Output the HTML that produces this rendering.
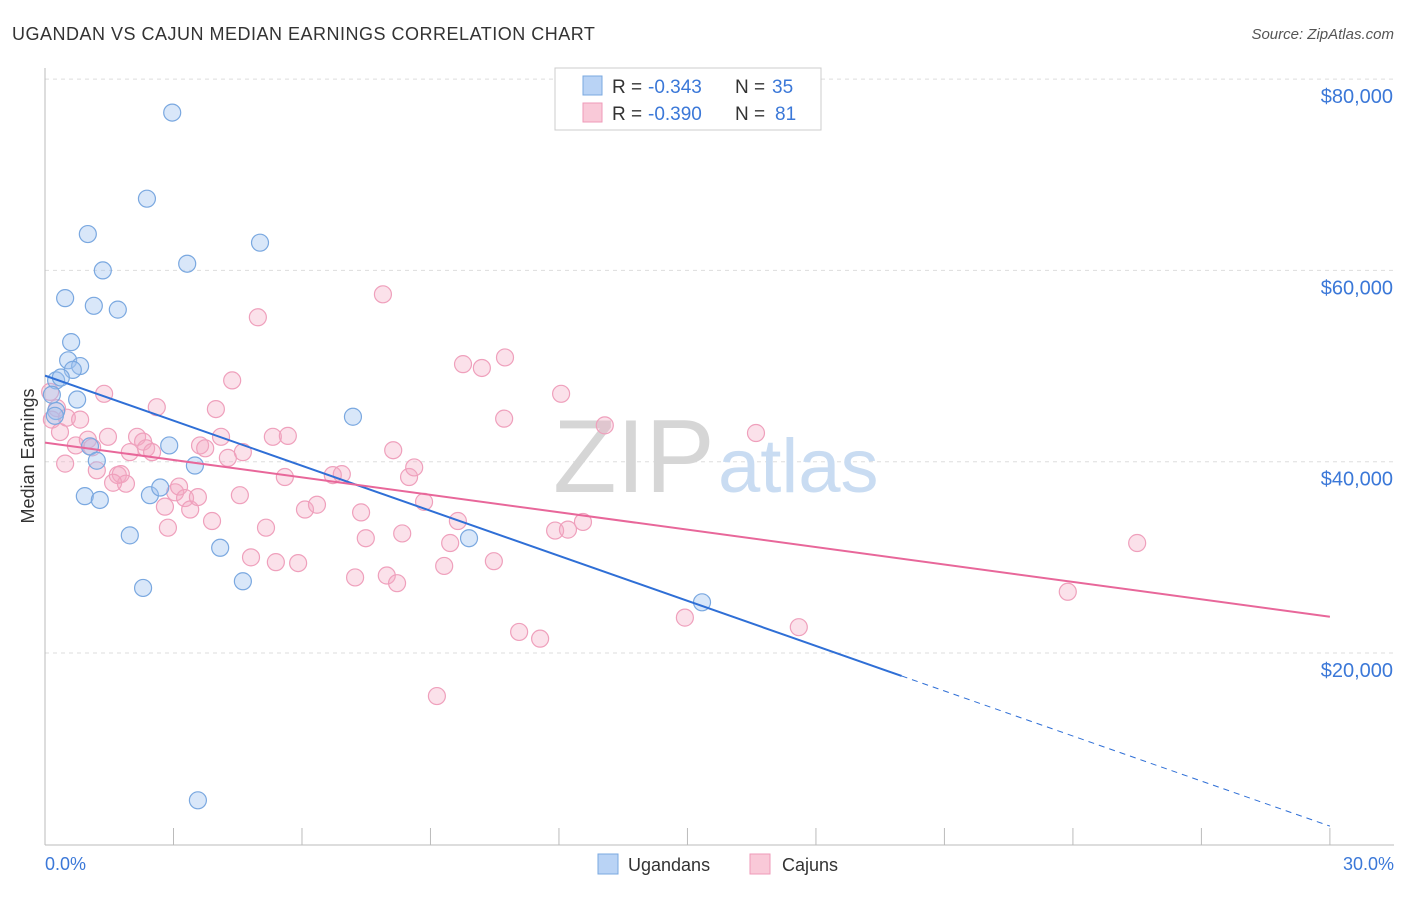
<!DOCTYPE html>
<html><head><meta charset="utf-8">
<style>
body{margin:0;background:#fff;font-family:"Liberation Sans",sans-serif;}
svg text{font-family:"Liberation Sans",sans-serif;}
</style></head>
<body>
<svg id="chart" width="1406" height="892" xmlns="http://www.w3.org/2000/svg">
<text x="12" y="40" font-size="18" letter-spacing="0.5" fill="#333">UGANDAN VS CAJUN MEDIAN EARNINGS CORRELATION CHART</text>
<text x="1394" y="39" font-size="15" fill="#555" text-anchor="end" font-style="italic">Source: ZipAtlas.com</text>
<g id="grid"></g>
<g id="watermark">
<text x="553" y="492" font-size="104" fill="#d6d6d6" font-family="Liberation Serif">ZIP</text>
<text x="718" y="492" font-size="76" fill="#c9dcf2">atlas</text>
</g>
<line x1="45" y1="68" x2="45" y2="845" stroke="#bbb"/>
<line x1="45" y1="845" x2="1394" y2="845" stroke="#bbb"/>
<g id="xticks"></g>
<text x="45" y="870" font-size="18" fill="#3b78d8">0.0%</text>
<text x="1394" y="870" font-size="18" fill="#3b78d8" text-anchor="end">30.0%</text>
<text transform="translate(34,456) rotate(-90)" font-size="18" fill="#333" text-anchor="middle">Median Earnings</text>
<g id="pts"></g>
<g id="lines"></g>
<g>
<rect x="555" y="68" width="266" height="62" fill="#fff" stroke="#ccc"/>
<rect x="583" y="76" width="19" height="19" fill="#b9d3f5" stroke="#7aa8e0"/>
<rect x="583" y="103" width="19" height="19" fill="#f9c9d8" stroke="#ef9ab8"/>
<text x="612" y="93" font-size="19" fill="#333">R =</text>
<text x="648" y="93" font-size="19" fill="#3b78d8">-0.343</text>
<text x="735" y="93" font-size="19" fill="#333">N =</text>
<text x="772" y="93" font-size="19" fill="#3b78d8">35</text>
<text x="612" y="120" font-size="19" fill="#333">R =</text>
<text x="648" y="120" font-size="19" fill="#3b78d8">-0.390</text>
<text x="735" y="120" font-size="19" fill="#333">N =</text>
<text x="775" y="120" font-size="19" fill="#3b78d8">81</text>
</g>
<g>
<rect x="598" y="854" width="20" height="20" fill="#b9d3f5" stroke="#7aa8e0"/>
<text x="628" y="871" font-size="18" fill="#333">Ugandans</text>
<rect x="750" y="854" width="20" height="20" fill="#f9c9d8" stroke="#ef9ab8"/>
<text x="782" y="871" font-size="18" fill="#333">Cajuns</text>
</g>
</svg>
<script>
const yTicks=[20000,40000,60000,80000];
const yTickLabels=["$20,000","$40,000","$60,000","$80,000"];
const xTickCount=10;
const bluePct=[2.97,2.38,1.00,5.02,1.35,3.32,0.47,1.14,1.70,0.61,0.54,0.82,0.65,0.26,0.37,0.75,0.26,0.23,7.19,1.05,2.90,1.21,3.50,0.93,1.28,2.45,2.69,1.98,4.09,9.90,2.29,4.62,15.34,3.57,0.16];
const blueVal=[76.5,67.5,63.8,62.9,60.0,60.7,57.1,56.3,55.9,52.5,50.6,50.0,49.6,48.5,48.8,46.5,45.3,44.8,44.7,41.6,41.7,40.1,39.6,36.4,36.0,36.5,37.3,32.3,31.0,32.0,26.8,27.5,25.3,4.6,47.0];
const pinkPct=[.28,.16,.35,.51,.82,.47,.72,1.00,1.10,1.21,1.38,1.47,1.70,1.77,1.89,1.59,1.98,2.15,2.29,2.36,2.50,2.61,2.80,2.87,3.04,3.13,3.27,3.39,3.57,3.62,3.74,3.90,3.99,4.11,4.27,4.37,4.55,4.62,4.81,4.97,5.16,5.32,5.39,5.60,5.67,5.91,6.07,6.35,6.72,6.93,7.24,7.38,7.49,7.89,7.98,8.13,8.22,8.34,8.50,8.62,8.85,9.15,9.32,9.46,9.64,9.76,10.20,10.48,10.72,10.74,11.07,11.56,11.91,12.05,12.21,12.56,13.07,14.94,16.60,17.60,23.88,25.50,.12];
const pinkVal=[45.6,44.4,43.1,44.6,44.4,39.8,41.7,42.3,41.5,39.1,47.1,42.6,38.6,38.7,37.7,37.8,41.0,42.6,42.1,41.4,41.0,45.7,35.3,33.1,36.8,37.4,36.2,35.0,36.3,41.7,41.4,33.8,45.5,42.6,40.4,48.5,36.5,41.0,30.0,55.1,33.1,42.6,29.5,38.4,42.7,29.4,35.0,35.5,38.6,38.7,27.9,34.7,32.0,57.5,28.1,41.2,27.3,32.5,38.4,39.4,35.8,15.5,29.1,31.5,33.8,50.2,49.8,29.6,44.5,50.9,22.2,21.5,32.8,47.1,32.9,33.7,43.8,23.7,43.0,22.7,26.4,31.5,47.3];
const blueTrend=[49.0,-1.57];
const pinkTrend=[42.0,-0.607];
const NS="http://www.w3.org/2000/svg";
function X(p){return 45+p*42.83;}
function Y(k){return 653-(k-20)/0.10455;}
function mk(tag,attrs,parent){const e=document.createElementNS(NS,tag);for(const k in attrs)e.setAttribute(k,attrs[k]);parent.appendChild(e);return e;}
const grid=document.getElementById('grid');
yTicks.forEach((t,i)=>{
 const y=Y(t/1000);
 const l=mk('line',{x1:45,x2:1394,y1:y,y2:y,stroke:'#ddd','stroke-dasharray':'4,4'},grid);
 
 
 const tx=mk('text',{x:1393,y:y+24,'font-size':20,fill:'#3b78d8','text-anchor':'end'},grid);
 tx.textContent=yTickLabels[i];
 
 
});
const xt=document.getElementById('xticks');
for(let i=0;i<=xTickCount;i++){
 const x=X(i*30/xTickCount);
 const l=mk('line',{x1:x,x2:x,y1:828,y2:845,stroke:'#bbb'},xt);
 
 
}
const pts=document.getElementById('pts');
pinkPct.forEach((p,i)=>{
 const c=mk('circle',{cx:X(p),cy:Y(pinkVal[i]),r:8.5,fill:'rgba(244,170,195,0.35)',stroke:'#efa0bc','stroke-width':1.2},pts);
 
 
});
bluePct.forEach((p,i)=>{
 const c=mk('circle',{cx:X(p),cy:Y(blueVal[i]),r:8.5,fill:'rgba(160,196,240,0.4)',stroke:'#7aa8e0','stroke-width':1.2},pts);
 
 
});
const lines=document.getElementById('lines');
const bf=p=>blueTrend[0]+blueTrend[1]*p, pf=p=>pinkTrend[0]+pinkTrend[1]*p;
let l1=mk('line',{x1:X(0),y1:Y(bf(0)),x2:X(20),y2:Y(bf(20)),stroke:'#2f6fd6','stroke-width':2},lines);


let l2=mk('line',{x1:X(20),y1:Y(bf(20)),x2:X(30),y2:Y(bf(30)),stroke:'#2f6fd6','stroke-width':1,'stroke-dasharray':'6,5'},lines);


let l3=mk('line',{x1:X(0),y1:Y(pf(0)),x2:X(30),y2:Y(pf(30)),stroke:'#e8679a','stroke-width':2},lines);


</script>
</body></html>
